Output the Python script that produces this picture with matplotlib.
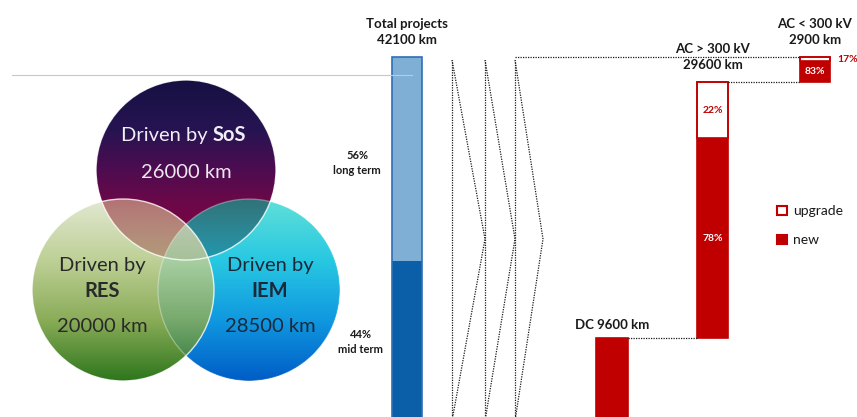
import numpy as np
import matplotlib
matplotlib.use("Agg")
import matplotlib.pyplot as plt
from matplotlib.patches import Circle, Rectangle

plt.rcParams["font.family"] = ["Lato", "DejaVu Sans"]

# ── data ─────────────────────────────────────────────
total_km    = 42100
term_labels = ["long term", "mid term"]
term_share  = [0.56, 0.44]

type_labels   = ["DC", "AC > 300 kV", "AC < 300 kV"]
type_km       = [9600, 29600, 2900]
upgrade_share = [0.0, 0.22, 0.17]

venn_labels = ["SoS", "RES", "IEM"]
venn_km     = [26000, 20000, 28500]

# ── layout (pixel canvas) ───────────────────────────
W, H   = 857, 417
RED    = "#c00000"
Y_ZERO = 421            # pixel row of 0 km
PPK    = 364 / total_km  # pixels per km

fig = plt.figure(figsize=(W / 100, H / 100), dpi=100, facecolor="white")

# waterfall axes, in km
axw = fig.add_axes([0, 0, 1, 1], zorder=1)
axw.set_xlim(0, W)
axw.set_ylim((Y_ZERO - H) / PPK, Y_ZERO / PPK)
axw.axis("off")
axw.patch.set_alpha(0)

# overlay axes, in pixels
ax = fig.add_axes([0, 0, 1, 1], zorder=2)
ax.set_xlim(0, W)
ax.set_ylim(H, 0)
ax.axis("off")
ax.patch.set_alpha(0)


def px(km):
    return Y_ZERO - km * PPK


# ── Venn diagram ────────────────────────────────────
circles = [(186, 170, 90), (123, 290, 91), (249, 290, 91)]
stops = [
    ([80, 130, 170, 205, 262], [(22, 16, 66), (38, 20, 82), (78, 12, 80), (110, 8, 72), (125, 0, 62)]),
    ([199, 260, 320, 381], [(226, 232, 210), (190, 208, 150), (138, 172, 88), (45, 118, 28)]),
    ([199, 260, 320, 381], [(96, 224, 216), (40, 200, 226), (16, 152, 224), (0, 92, 198)]),
]

x0, x1, y0, y1 = 20, 352, 70, 394
X, Y = np.meshgrid(np.arange(x0, x1) + 0.5, np.arange(y0, y1) + 0.5)


def grad(sy, sc):
    sc = np.array(sc, float)
    return np.stack([np.interp(Y, sy, sc[:, k]) for k in range(3)], axis=-1)


def lerp(a, b, t):
    return a + (b - a) * t[..., None]


(ms, mr, mi) = [np.clip(r - np.hypot(X - cx, Y - cy) + 0.5, 0, 1) for cx, cy, r in circles]
cs, cr, ci = [grad(sy, sc) for sy, sc in stops]

rgb = np.full(X.shape + (3,), 255.0)
rgb = lerp(rgb, ci, mi)
rgb = lerp(rgb, cr, mr * (1 - 0.15 * mi))
w_s = np.clip(0.55 - (Y - 200) / 220, 0.12, 1)
other = np.maximum(mr, mi)
a_s = ms * (1 + (w_s - 1) * other) * (1 - 0.75 * mr * mi)
cov = lerp(cs, np.broadcast_to(np.array([140., 20., 40.]), cs.shape), mr)
cov = lerp(cov, np.broadcast_to(np.array([10., 25., 45.]), cs.shape), mi * (1 - mr))
rgb = lerp(rgb, cov, a_s)
alpha = 1 - (1 - ms) * (1 - mr) * (1 - mi)
img = np.dstack([np.clip(rgb / 255, 0, 1), alpha])
ax.imshow(img, extent=(x0, x1, y1, y0), origin="upper", interpolation="bilinear", zorder=1)
for (cx, cy, r), ea in zip(circles, [0.8, 0.8, 0.3]):
    ax.add_patch(Circle((cx, cy), r, fill=False, ec="white", lw=1.0, alpha=ea, zorder=2))

vfs = 14.5
ax.text(208, 135, "Driven by", ha="right", va="center", fontsize=vfs, color="#f0eef5", zorder=3)
ax.text(213, 135, venn_labels[0], ha="left", va="center", fontsize=vfs,
        weight="bold", color="#f0eef5", zorder=3)
ax.text(186, 172, f"{venn_km[0]} km", ha="center", va="center", fontsize=vfs, color="#ece8f0", zorder=3)
for (cx, cy, r), lab, km, c in zip(circles[1:], venn_labels[1:], venn_km[1:], ["#2a2a2a", "#1a2a3a"]):
    tx = cx - 21 if lab == "RES" else cx + 21
    ax.text(tx, 265, "Driven by", ha="center", va="center", fontsize=vfs, color=c, zorder=3)
    ax.text(tx, 291, lab, ha="center", va="center", fontsize=vfs, weight="bold", color=c, zorder=3)
    ax.text(tx, 327, f"{km} km", ha="center", va="center", fontsize=vfs, color=c, zorder=3)

ax.plot([12, 412], [75, 75], color="#c8c8c8", lw=0.8, zorder=4)

# ── total bar ───────────────────────────────────────
tx_c, tw = 407, 30
mid_km = term_share[1] * total_km
axw.bar(tx_c, mid_km, bottom=0, width=tw, color="#0b5ea8", lw=0)
axw.bar(tx_c, total_km - mid_km, bottom=mid_km, width=tw, color="#80afd6", lw=0)
axw.bar(tx_c, total_km, bottom=0, width=tw, fill=False, ec="#2f6fb5", lw=1.2)
ax.text(tx_c, 32, f"Total projects\n{total_km} km", ha="center", va="center",
        fontsize=9.5, weight="bold", color="#1a1a1a", linespacing=1.35)
ax.text(357, 163, f"{term_share[0]:.0%}\n{term_labels[0]}", ha="center", va="center",
        fontsize=8, weight="bold", color="#1a1a1a", linespacing=1.35)
ax.text(361, 342, f"{term_share[1]:.0%}\n{term_labels[1]}", ha="center", va="center",
        fontsize=8, weight="bold", color="#1a1a1a", linespacing=1.35)

# chevrons
dots = dict(color="#1a1a1a", lw=0.9, ls=(0, (1, 1)))
for xv, xa in [(452, 485), (485, 515), (515, 543)]:
    axw.plot([xv, xv], [0, 41750], **dots)
    axw.plot([xv, xa, xv], [41750, total_km / 2, 0], **dots)

# ── waterfall of line types ─────────────────────────
bx = [612, 712.5, 815]
bw = [32, 31, 30]
bottoms = np.cumsum([0] + type_km[:-1])
for x, w, b, km, up in zip(bx, bw, bottoms, type_km, upgrade_share):
    new_km = km * (1 - up)
    axw.bar(x, new_km, bottom=b, width=w, color=RED, lw=0)
    if up:
        axw.bar(x, km - new_km, bottom=b + new_km, width=w, color="white", ec=RED, lw=1.2)
    axw.bar(x, km, bottom=b, width=w, fill=False, ec=RED, lw=1.2)

# connectors
axw.plot([515, bx[2] - bw[2] / 2], [total_km, total_km], **dots)
axw.plot([bx[1] + bw[1] / 2, bx[2] - bw[2] / 2], [bottoms[2], bottoms[2]], **dots)
axw.plot([bx[0] + bw[0] / 2, bx[1] - bw[1] / 2], [bottoms[1], bottoms[1]], **dots)

hdr = dict(ha="center", va="center", fontsize=9.5, weight="bold", color="#1a1a1a", linespacing=1.35)
ax.text(bx[0], px(type_km[0]) - 13, f"{type_labels[0]} {type_km[0]} km", **hdr)
ax.text(bx[1], px(bottoms[1] + type_km[1]) - 25, f"{type_labels[1]}\n{type_km[1]} km", **hdr)
ax.text(bx[2], px(bottoms[2] + type_km[2]) - 25, f"{type_labels[2]}\n{type_km[2]} km", **hdr)

pct = dict(ha="center", va="center", fontsize=7.5, weight="bold")
for i in (1, 2):
    b, km, up = bottoms[i], type_km[i], upgrade_share[i]
    axw.text(bx[i], b + km * (1 - up) / 2, f"{1 - up:.0%}", color="white", **pct)
axw.text(bx[1], bottoms[1] + type_km[1] * (1 - upgrade_share[1] / 2), f"{upgrade_share[1]:.0%}",
         color=RED, **pct)
axw.text(837, bottoms[2] + type_km[2] * (1 - upgrade_share[2] / 2), f"{upgrade_share[2]:.0%}",
         color=RED, ha="left", va="center", fontsize=7.5, weight="bold")

# legend
ax.add_patch(Rectangle((777, 206), 10, 9, fc="white", ec=RED, lw=1.5))
ax.add_patch(Rectangle((777, 235), 10, 9, fc=RED, ec=RED, lw=1.5))
ax.text(793, 211, "upgrade", ha="left", va="center", fontsize=10, color="#1a1a1a")
ax.text(793, 240, "new", ha="left", va="center", fontsize=10, color="#1a1a1a")

fig.savefig("out.png", dpi=100, facecolor="white")
